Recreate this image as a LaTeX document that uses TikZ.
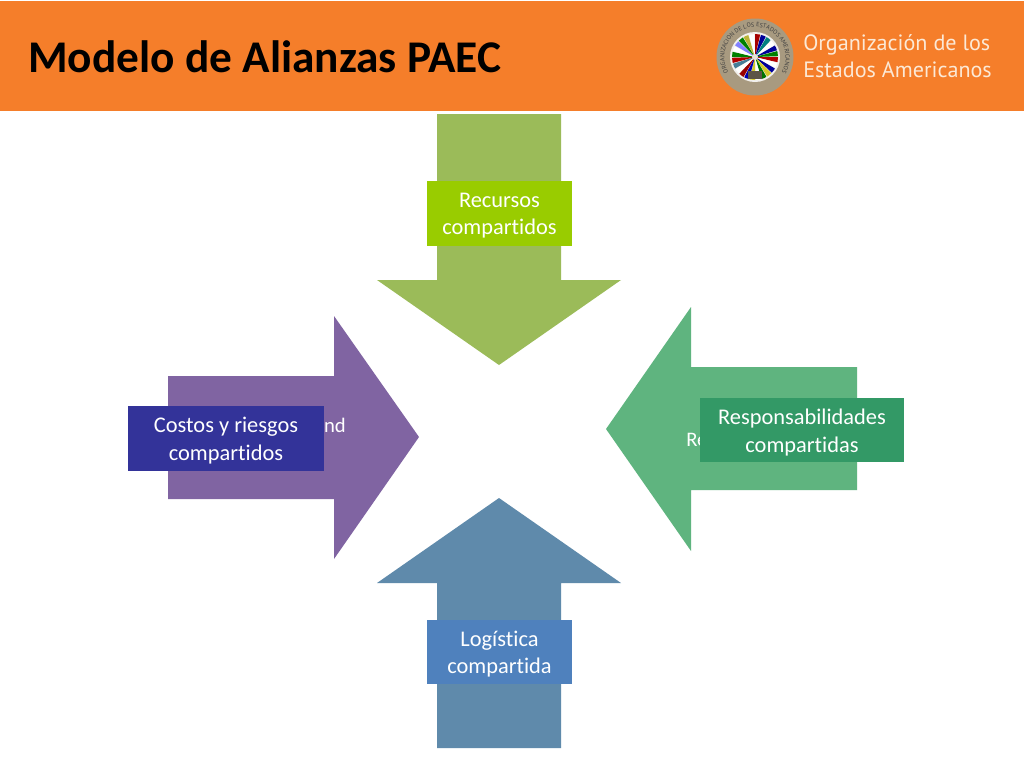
\documentclass[tikz,border=0pt]{standalone}
\usepackage{fontspec}
\setmainfont[Ligatures=NoCommon]{Carlito}
\newfontfamily\logofont{PT Sans}
\usetikzlibrary{decorations.text}
\definecolor{hdr}{HTML}{F57E2A}
\definecolor{arrG}{HTML}{9BBB59}
\definecolor{arrP}{HTML}{8064A2}
\definecolor{arrT}{HTML}{5FB47F}
\definecolor{arrB}{HTML}{5F8AAB}
\definecolor{boxG}{HTML}{99CC00}
\definecolor{boxP}{HTML}{333399}
\definecolor{boxT}{HTML}{339966}
\definecolor{boxB}{HTML}{4F81BD}
\definecolor{ringc}{HTML}{A89A80}
\definecolor{logot}{HTML}{FCE9D6}
\tikzset{
  labbox/.style={anchor=center,minimum height=48.5pt,inner sep=0pt},
  labtxt/.style={anchor=center,yshift=-1.7pt,align=center,text=white,font=\fontsize{16.8}{20.7}\selectfont,inner sep=0pt},
  under/.style={text=white,font=\fontsize{15.5}{18}\selectfont,inner sep=0pt},
  logotxt/.style={anchor=west,text=logot,inner sep=0pt,font=\logofont\fontsize{16.6}{19}\selectfont}
}
\begin{document}
\begin{tikzpicture}[x=0.75pt,y=-0.75pt]
\useasboundingbox (0,0) rectangle (1024,768);
\fill[white] (0,0) rectangle (1024,768);
\fill[hdr] (0,1) rectangle (1024,111);
\node[anchor=west,inner sep=0pt,font=\bfseries\fontsize{34}{38}\selectfont] (title) at (28,56.5) {Modelo de Alianzas PAEC};
% seal
\fill[ringc] (755,57) circle (38.5);
\fill[white!85!ringc] (755,57) circle (25);
\begin{scope}[shift={(755,57)}]
\clip (0,0) circle (23);
\foreach \a/\c in {0/red!70!black,15/white,30/blue!60!black,45/yellow!80!black,60/green!45!black,75/white,90/yellow!80!black,105/blue!70!black,120/red!60!black,135/white,150/cyan!55!black,165/red!70!black,180/green!50!black,195/white,210/blue!50!white,225/green!50!black,240/yellow!70!black,255/white,270/red!65!black,285/blue!60!black,300/teal,315/white,330/blue!60!black,345/green!50!black}{
  \fill[\c] (0,0) -- (\a:24) arc[start angle=\a,end angle=\a+13,radius=24] -- cycle;
}
\fill[black!45!ringc] (-7,14) rectangle (7,22);
\fill[white!70!ringc] (0,0) circle (3);
\end{scope}
\path[postaction={decorate,decoration={text along path,text align=center,
  text={|\logofont\fontsize{4.6}{5}\selectfont\color{black!75}|ORGANIZACION DE LOS ESTADOS AMERICANOS}}}]
  (755,88) arc[start angle=90,end angle=450,radius=30.5];
\node[logotxt] (org) at (803,45) {Organización de los};
\node[logotxt] (est) at (803,70) {Estados Americanos};
% arrows
\fill[arrG] (437,114) -- (561,114) -- (561,280) -- (621,280) -- (499,365) -- (377,280) -- (437,280) -- cycle;
\fill[arrP] (168,376) -- (334,376) -- (334,316) -- (419,437) -- (334,559) -- (334,499) -- (168,499) -- cycle;
\fill[arrT] (857,367) -- (691,367) -- (691,307) -- (606,429) -- (691,551) -- (691,490) -- (857,490) -- cycle;
\fill[arrB] (437,748) -- (561,748) -- (561,583) -- (621,583) -- (499,498) -- (377,583) -- (437,583) -- cycle;
% text hidden behind the boxes
\node[under,anchor=east] (hidP) at (346,425) {nd};
\node[under,anchor=west] (hidT) at (686,440) {Re};
% boxes
\node[labbox,fill=boxG,minimum width=108.75pt] (rec) at (499.5,213.5) {};
\node[labtxt] (rect) at (rec.center) {Recursos\\compartidos};
\node[labbox,fill=boxP,minimum width=147pt] (cos) at (226,438.5) {};
\node[labtxt] (cost) at (cos.center) {Costos y riesgos\\compartidos};
\node[labbox,fill=boxT,minimum width=153pt] (res) at (802,430) {};
\node[labtxt] (rest) at (res.center) {Responsabilidades\\compartidas};
\node[labbox,fill=boxB,minimum width=108.75pt] (log) at (499.5,652) {};
\node[labtxt] (logt) at (log.center) {Logística\\compartida};
\end{tikzpicture}
\end{document}
